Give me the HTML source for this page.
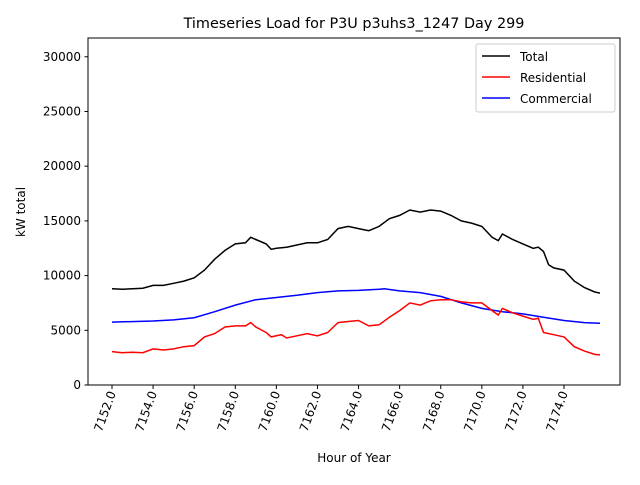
<!DOCTYPE html>
<html><head><meta charset="utf-8"><style>
body{margin:0;background:#fff;}
svg text{font-family:"DejaVu Sans","Liberation Sans",sans-serif;}
</style></head><body>
<svg id="s" width="640" height="480" xmlns="http://www.w3.org/2000/svg">
<rect width="640" height="480" fill="#fff"/>
<text x="354" y="28" font-size="14.4" text-anchor="middle">Timeseries Load for P3U p3uhs3_1247  Day 299</text>
<g id="ticks" font-size="12"></g>
<polyline id="com" fill="none" stroke="#0000ff" stroke-width="1.5"/>
<polyline id="res" fill="none" stroke="#ff0000" stroke-width="1.5"/>
<polyline id="tot" fill="none" stroke="#000" stroke-width="1.5"/>
<rect x="88" y="38" width="532" height="347" fill="none" stroke="#000" stroke-width="1"/>
<text x="354" y="462" font-size="12" text-anchor="middle">Hour of Year</text>
<text transform="translate(25,212) rotate(-90)" font-size="12" text-anchor="middle">kW total</text>
<rect x="476" y="44" width="139" height="68" fill="#fff" stroke="#ccc" rx="2"/>
<line x1="482" y1="56" x2="510" y2="56" stroke="#000" stroke-width="1.5"/>
<text x="520" y="61" font-size="12">Total</text>
<line x1="482" y1="77" x2="510" y2="77" stroke="#f00" stroke-width="1.5"/>
<text x="520" y="82" font-size="12">Residential</text>
<line x1="482" y1="98" x2="510" y2="98" stroke="#00f" stroke-width="1.5"/>
<text x="520" y="103" font-size="12">Commercial</text>
</svg>
<script>
function X(h){return 112+(h-7152)*452/22;}
function Y(v){return 385-v*54.7/5000;}
function pts(a){var s=[];for(var i=0;i<a.length;i+=2)s.push(X(a[i]).toFixed(1)+","+Y(a[i+1]).toFixed(1));return s.join(" ");}
var tot=[7152,8800,7152.5,8750,7153,8800,7153.5,8850,7154,9100,7154.5,9100,7155,9300,7155.5,9500,7156,9800,7156.5,10500,7157,11500,7157.5,12300,7158,12900,7158.5,13000,7158.75,13500,7159,13300,7159.5,12900,7159.75,12400,7160,12500,7160.5,12600,7161,12800,7161.5,13000,7162,13000,7162.5,13300,7163,14300,7163.5,14500,7164,14300,7164.5,14100,7165,14500,7165.5,15200,7166,15500,7166.5,16000,7167,15800,7167.5,16000,7168,15900,7168.5,15500,7169,15000,7169.5,14800,7170,14500,7170.5,13500,7170.8,13200,7171,13800,7171.5,13300,7172,12900,7172.5,12500,7172.75,12600,7173,12200,7173.25,11000,7173.5,10700,7174,10500,7174.5,9500,7175,8900,7175.5,8500,7175.75,8400];
var com=[7152,5750,7154,5850,7155,5950,7156,6150,7157,6700,7158,7300,7159,7800,7160,8000,7161,8200,7162,8450,7163,8600,7164,8650,7165,8750,7165.25,8800,7166,8600,7167,8450,7168,8100,7169,7500,7170,7000,7171,6700,7172,6500,7173,6200,7174,5900,7175,5700,7175.75,5650];
var res=[7152,3050,7152.5,2950,7153,3000,7153.5,2950,7154,3300,7154.5,3200,7155,3300,7155.5,3500,7156,3600,7156.5,4400,7157,4700,7157.5,5300,7158,5400,7158.5,5400,7158.75,5700,7159,5300,7159.5,4800,7159.75,4400,7160.25,4600,7160.5,4300,7161,4500,7161.5,4700,7162,4500,7162.5,4800,7163,5700,7163.5,5800,7164,5900,7164.5,5400,7165,5500,7165.5,6200,7166,6800,7166.5,7500,7167,7300,7167.5,7700,7168,7800,7168.5,7800,7169,7600,7169.5,7500,7170,7500,7170.5,6800,7170.8,6400,7171,7000,7171.5,6600,7172,6300,7172.5,6000,7172.75,6100,7173,4800,7173.5,4600,7174,4400,7174.5,3500,7175,3100,7175.5,2800,7175.75,2750];
document.getElementById('tot').setAttribute('points',pts(tot));
document.getElementById('com').setAttribute('points',pts(com));
document.getElementById('res').setAttribute('points',pts(res));
var g=document.getElementById('ticks'),h='';
for(var v=0;v<=30000;v+=5000){var y=Y(v);h+='<line x1="84.5" x2="88" y1="'+y+'" y2="'+y+'" stroke="#000"/><text x="81" y="'+(y+4)+'" text-anchor="end">'+v+'</text>';}
for(var t=7152;t<=7174;t+=2){var x=X(t);h+='<line x1="'+x+'" x2="'+x+'" y1="385" y2="389" stroke="#000"/><text transform="translate('+(x+4)+',393) rotate(-70)" text-anchor="end">'+t+'.0</text>';}
g.innerHTML=h;
</script>
</body></html>
